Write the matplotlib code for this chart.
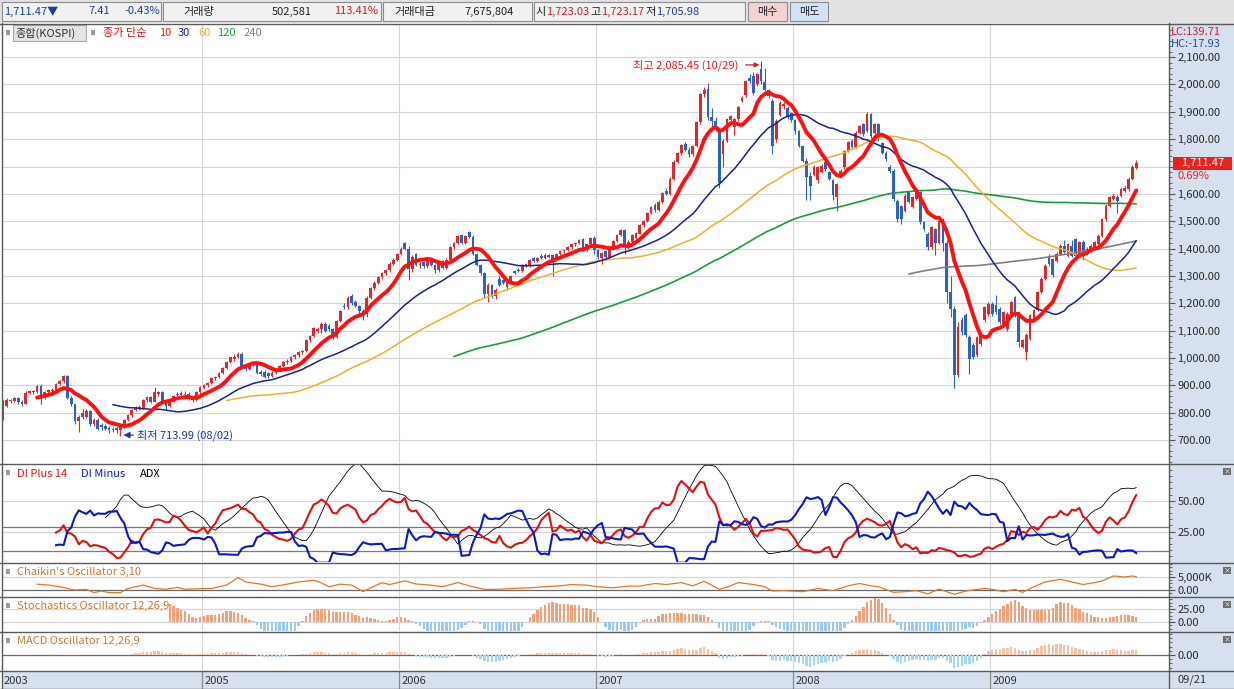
import numpy as np
import pandas as pd
import matplotlib
matplotlib.use('Agg')
import matplotlib.pyplot as plt
import matplotlib.transforms as mtrans
from matplotlib.patches import Rectangle
from matplotlib.ticker import FixedLocator, MultipleLocator

plt.rcParams['font.family'] = ['Noto Sans CJK KR', 'DejaVu Sans']
plt.rcParams['font.size'] = 8

# KOSPI weekly candles, week of 2003-12-29 .. week of 2009-09-21
opens = [
    780, 825, 845, 842, 852, 838, 832, 872, 878, 874,
    896, 855, 876, 880, 884, 905, 914, 933, 855, 830,
    770, 800, 783, 805, 760, 775, 755, 752, 745, 735,
    738, 735, 750, 772, 790, 810, 822, 814, 846, 856,
    840, 868, 874, 842, 826, 842, 868, 864, 866, 870,
    856, 846, 874, 892, 900, 908, 926, 930, 946, 965,
    985, 998, 1005, 1016, 972, 958, 975, 985, 940, 950,
    945, 934, 946, 958, 970, 985, 990, 1004, 1010, 1020,
    1025, 1065, 1080, 1098, 1106, 1124, 1118, 1105, 1075, 1135,
    1190, 1185, 1225, 1205, 1190, 1170, 1160, 1220, 1255, 1275,
    1295, 1310, 1320, 1345, 1360, 1380, 1420, 1400, 1325, 1380,
    1340, 1350, 1335, 1365, 1340, 1320, 1355, 1330, 1360, 1405,
    1420, 1450, 1420, 1460, 1442, 1380, 1340, 1310, 1235, 1265,
    1225, 1290, 1285, 1260, 1282, 1318, 1322, 1318, 1342, 1336,
    1365, 1356, 1374, 1366, 1368, 1375, 1360, 1380, 1390, 1396,
    1405, 1415, 1420, 1435, 1395, 1418, 1440, 1395, 1365, 1392,
    1368, 1398, 1428, 1450, 1468, 1405, 1425, 1440, 1455, 1485,
    1500, 1530, 1560, 1540, 1572, 1612, 1600, 1655, 1718, 1748,
    1782, 1762, 1745, 1775, 1861, 1964, 1985, 1880, 1868, 1838,
    1745, 1795, 1870, 1845, 1872, 1940, 1960, 2025, 2030, 2000,
    2055, 2010, 1978, 1940, 1800, 1890, 1920, 1915, 1895, 1870,
    1830, 1776, 1721, 1665, 1670, 1649, 1680, 1715, 1680, 1650,
    1588, 1667, 1697, 1758, 1795, 1772, 1824, 1855, 1830, 1891,
    1824, 1854, 1786, 1751, 1700, 1684, 1575, 1555, 1538, 1606,
    1551, 1582, 1606, 1496, 1453, 1405, 1470, 1420, 1500, 1419,
    1241, 1180, 938, 1140, 1156, 1077, 1047, 1010, 1050, 1138,
    1160, 1199, 1192, 1180, 1120, 1107, 1162, 1223, 1168, 1041,
    1023, 1071, 1144, 1174, 1241, 1290, 1374, 1362, 1356, 1381,
    1411, 1374, 1411, 1435, 1381, 1423, 1381, 1393, 1405, 1417,
    1447, 1508, 1557, 1581, 1587, 1593, 1611, 1617, 1654, 1696,
]
highs = [
    845, 852, 850, 858, 856, 848, 878, 882, 884, 900,
    905, 880, 886, 889, 908, 918, 937, 936, 862, 835,
    790, 812, 812, 810, 782, 780, 762, 760, 752, 748,
    750, 756, 778, 795, 815, 825, 828, 850, 862, 860,
    895, 880, 878, 846, 848, 865, 875, 878, 878, 874,
    860, 878, 898, 906, 912, 930, 935, 950, 968, 988,
    1005, 1015, 1022, 1020, 976, 980, 990, 988, 955, 955,
    950, 952, 962, 975, 990, 995, 1008, 1015, 1025, 1030,
    1070, 1085, 1112, 1112, 1130, 1132, 1125, 1110, 1140, 1175,
    1200, 1225, 1235, 1212, 1195, 1178, 1225, 1260, 1280, 1300,
    1315, 1325, 1350, 1365, 1385, 1405, 1425, 1410, 1375, 1385,
    1352, 1355, 1368, 1370, 1345, 1358, 1360, 1365, 1410, 1425,
    1450, 1455, 1450, 1464, 1448, 1385, 1345, 1315, 1275, 1270,
    1255, 1298, 1290, 1288, 1305, 1322, 1328, 1345, 1348, 1362,
    1370, 1370, 1380, 1382, 1380, 1380, 1385, 1395, 1400, 1410,
    1420, 1425, 1435, 1440, 1422, 1442, 1445, 1400, 1388, 1396,
    1402, 1432, 1455, 1472, 1470, 1430, 1452, 1462, 1488, 1504,
    1532, 1556, 1566, 1576, 1606, 1620, 1660, 1722, 1752, 1782,
    1790, 1770, 1780, 1866, 1968, 1990, 2004, 1915, 1880, 1845,
    1800, 1878, 1890, 1878, 1920, 1958, 2018, 2040, 2045, 2042,
    2085.45, 2060, 1985, 1945, 1872, 1940, 1935, 1920, 1900, 1875,
    1835, 1780, 1730, 1680, 1705, 1702, 1710, 1720, 1685, 1655,
    1640, 1690, 1762, 1792, 1800, 1828, 1852, 1860, 1901, 1896,
    1860, 1860, 1790, 1756, 1705, 1690, 1580, 1560, 1598, 1612,
    1592, 1612, 1610, 1500, 1460, 1482, 1475, 1505, 1510, 1430,
    1300, 1190, 1130, 1150, 1165, 1085, 1055, 1080, 1095, 1190,
    1205, 1205, 1229, 1185, 1172, 1168, 1210, 1228, 1172, 1070,
    1090, 1160, 1180, 1245, 1295, 1342, 1380, 1366, 1386, 1415,
    1432, 1420, 1430, 1440, 1428, 1430, 1404, 1416, 1428, 1452,
    1512, 1562, 1592, 1598, 1595, 1622, 1628, 1660, 1707, 1723.17,
]
lows = [
    772, 820, 835, 838, 830, 825, 830, 868, 870, 872,
    830, 850, 866, 872, 880, 900, 910, 850, 825, 760,
    728, 778, 780, 752, 750, 735, 738, 735, 725, 728,
    725, 713.99, 745, 768, 785, 805, 810, 812, 840, 835,
    838, 860, 838, 808, 822, 838, 860, 858, 860, 845,
    838, 842, 870, 885, 895, 904, 918, 926, 942, 960,
    980, 990, 1000, 965, 952, 955, 970, 940, 935, 925,
    928, 930, 940, 952, 966, 978, 985, 998, 1005, 1015,
    1022, 1060, 1075, 1092, 1090, 1095, 1100, 1068, 1072, 1130,
    1180, 1180, 1195, 1185, 1162, 1140, 1150, 1215, 1250, 1270,
    1290, 1305, 1315, 1340, 1355, 1375, 1395, 1285, 1315, 1335,
    1330, 1328, 1330, 1335, 1310, 1315, 1325, 1325, 1355, 1400,
    1415, 1415, 1418, 1438, 1375, 1335, 1305, 1220, 1203, 1220,
    1215, 1262, 1270, 1250, 1278, 1308, 1315, 1315, 1332, 1332,
    1352, 1350, 1362, 1362, 1364, 1300, 1355, 1375, 1385, 1390,
    1400, 1410, 1415, 1390, 1390, 1410, 1380, 1362, 1345, 1360,
    1365, 1395, 1425, 1445, 1380, 1400, 1420, 1436, 1452, 1480,
    1496, 1526, 1535, 1536, 1568, 1595, 1596, 1650, 1712, 1742,
    1755, 1735, 1740, 1770, 1855, 1955, 1870, 1830, 1830, 1620,
    1700, 1790, 1860, 1815, 1868, 1935, 1955, 2005, 1960, 1995,
    2000, 1975, 1950, 1746, 1790, 1885, 1912, 1872, 1862, 1820,
    1770, 1715, 1576, 1576, 1665, 1640, 1675, 1685, 1650, 1576,
    1537, 1660, 1692, 1752, 1765, 1768, 1818, 1812, 1825, 1805,
    1818, 1795, 1745, 1720, 1678, 1575, 1496, 1490, 1532, 1565,
    1548, 1578, 1490, 1465, 1395, 1400, 1375, 1415, 1390, 1200,
    1150, 892, 930, 1085, 1078, 940, 995, 1005, 1045, 1130,
    1155, 1155, 1160, 1125, 1115, 1100, 1158, 1150, 1040, 1035,
    992, 1065, 1140, 1170, 1236, 1285, 1338, 1296, 1350, 1376,
    1382, 1368, 1368, 1368, 1376, 1360, 1376, 1388, 1400, 1412,
    1442, 1502, 1552, 1576, 1530, 1588, 1605, 1612, 1650, 1690,
]
closes = [
    825, 845, 842, 852, 838, 832, 872, 878, 874, 896,
    855, 876, 882, 884, 905, 914, 933, 855, 830, 770,
    785, 783, 805, 760, 775, 742, 746, 740, 735, 742,
    744, 750, 772, 790, 810, 820, 814, 846, 856, 840,
    876, 874, 842, 826, 842, 860, 864, 872, 870, 850,
    846, 874, 895, 900, 908, 926, 930, 946, 965, 985,
    1002, 1005, 1016, 972, 958, 975, 985, 946, 950, 930,
    934, 946, 958, 970, 985, 990, 1004, 1010, 1020, 1025,
    1065, 1080, 1108, 1106, 1124, 1100, 1105, 1075, 1135, 1170,
    1185, 1220, 1200, 1190, 1170, 1160, 1220, 1255, 1275, 1295,
    1310, 1320, 1345, 1360, 1380, 1400, 1400, 1325, 1370, 1340,
    1345, 1335, 1365, 1340, 1320, 1355, 1330, 1360, 1405, 1420,
    1445, 1420, 1446, 1442, 1380, 1340, 1310, 1235, 1265, 1225,
    1250, 1268, 1275, 1282, 1300, 1312, 1318, 1340, 1336, 1358,
    1356, 1366, 1366, 1378, 1376, 1360, 1380, 1390, 1396, 1405,
    1415, 1420, 1432, 1395, 1418, 1438, 1395, 1370, 1382, 1368,
    1398, 1428, 1450, 1468, 1405, 1425, 1448, 1458, 1485, 1500,
    1530, 1552, 1540, 1572, 1602, 1600, 1655, 1718, 1748, 1778,
    1762, 1745, 1775, 1861, 1964, 1978, 1880, 1868, 1838, 1638,
    1795, 1873, 1885, 1872, 1916, 1952, 2013, 2013, 1968, 2037,
    2013, 1980, 1958, 1776, 1867, 1934, 1930, 1880, 1870, 1830,
    1776, 1721, 1661, 1630, 1697, 1697, 1703, 1691, 1655, 1594,
    1636, 1685, 1758, 1788, 1772, 1824, 1849, 1818, 1891, 1811,
    1854, 1800, 1751, 1726, 1684, 1581, 1508, 1508, 1593, 1569,
    1588, 1606, 1496, 1472, 1405, 1477, 1420, 1500, 1419, 1241,
    1180, 938, 1113, 1095, 1083, 998, 1005, 1075, 1089, 1186,
    1199, 1160, 1168, 1132, 1168, 1162, 1205, 1156, 1059, 1065,
    1083, 1156, 1174, 1241, 1290, 1338, 1344, 1302, 1381, 1411,
    1387, 1417, 1374, 1374, 1423, 1374, 1399, 1411, 1423, 1447,
    1508, 1557, 1587, 1593, 1575, 1617, 1623, 1654, 1699.74, 1711.47,
]

# Chaikin's oscillator (week index, value in thousands)
chaikin_weeks = [9, 12, 15, 17, 19, 22, 24, 26, 28, 31, 33, 37, 40, 43, 46, 48,
                 52, 55, 59, 62, 64, 68, 71, 75, 78, 82, 84, 86, 89, 92, 95, 98,
                 100, 102, 106, 109, 113, 116, 120, 123, 127, 130, 135, 139, 143,
                 147, 150, 154, 157, 161, 165, 168, 172, 175, 179, 182, 185, 187,
                 189, 192, 194, 198, 201, 203, 206, 211, 215, 219, 223, 226, 229,
                 231, 235, 238, 241, 244, 247, 251, 254, 259, 261, 264, 267, 269,
                 272, 275, 279, 282, 285, 288, 290, 293, 296, 298, 299]
chaikin_vals = [2250, 1900, 1250, 600, 0, 250, -1000, -400, -1000, -1000, 600, 1900,
                600, 250, 1000, 250, 500, 600, 1900, 4750, 3100, 2250, 1250, 2250,
                3100, 3750, 2750, 1250, 2250, 1900, -600, 1500, 2800, 2100, 3500,
                2300, 1850, 1250, 2850, 1600, 250, 250, 600, 850, 1250, 1600, 2100,
                1850, 1250, 850, 1500, 1500, 2500, 2100, 2850, 1600, 3350, 1850,
                250, 1600, 2850, 2100, 1250, -400, -250, -650, 600, -250, 1600,
                2500, 1600, 1250, -900, -650, -250, -1500, 350, -1650, -400, 600,
                250, -650, 250, -900, 1250, 3100, 4100, 3100, 2100, 2850, 3500,
                5400, 5000, 5400, 5100]

ma_periods = [10, 30, 60, 120, 240]
ma_colors = ['#FF1010', '#14248A', '#E9B22C', '#1F9A3E', '#808080']
ma_widths = [2.8, 1.1, 1.1, 1.2, 1.2]

price_ticks = list(range(700, 2101, 100))

W, H = 1234, 689
RED, BLUE = '#DA2A2A', '#2C62C6'
AXBG = '#D6E0EE'
GRID = '#D6D6D6'
DARK = '#5A5A5A'
OSC_TXT = '#C47A3A'

o, h, l, c = map(np.array, (opens, highs, lows, closes))
n = len(c)
idx = np.arange(n)
weeks = pd.date_range('2003-12-29', periods=n, freq='W-MON')
fri_year = (weeks + pd.Timedelta(days=4)).year
year_pos = [0] + [i for i in range(1, n) if fri_year[i] != fri_year[i - 1]]
year_lbl = [str(weeks[0].year)] + [str(fri_year[i]) for i in year_pos[1:]]

# ---- indicators ----
df = pd.DataFrame({'o': o, 'h': h, 'l': l, 'c': c})
pc = df.c.shift()
tr = pd.concat([df.h - df.l, (df.h - pc).abs(), (df.l - pc).abs()], axis=1).max(axis=1)
tr.iloc[0] = np.nan
upm = df.h.diff()
dnm = -df.l.diff()
pdm = upm.where((upm > dnm) & (upm > 0), 0.0)
mdm = dnm.where((dnm > upm) & (dnm > 0), 0.0)
pdm.iloc[0] = np.nan
mdm.iloc[0] = np.nan
tr14 = tr.rolling(14).sum()
di_p = 100 * pdm.rolling(14).sum() / tr14
di_m = 100 * mdm.rolling(14).sum() / tr14
dx = 100 * (di_p - di_m).abs() / (di_p + di_m)
adx = dx.rolling(14).mean()

ema12 = df.c.ewm(span=12, adjust=False).mean()
ema26 = df.c.ewm(span=26, adjust=False).mean()
macd = ema12 - ema26
macd_osc = macd - macd.ewm(span=9, adjust=False).mean()
macd_osc.iloc[:33] = np.nan

# stochastics oscillator 12,26,9: %K(12) minus its 26-week mean, smoothed over 9
ll = df.l.rolling(12).min()
hh = df.h.rolling(12).max()
fast_k = 100 * (df.c - ll) / (hh - ll)
stoch_osc = (fast_k - fast_k.rolling(26).mean()).rolling(9).mean()

# ---- figure ----
fig = plt.figure(figsize=(W / 100, H / 100), dpi=100)
fig.patch.set_facecolor('white')


def box(x0, y0, x1, y1):
    return [x0 / W, 1 - y1 / H, (x1 - x0) / W, (y1 - y0) / H]


XL = ((2 - 3) / 3.79, (1169 - 3) / 3.79)

bg = fig.add_axes([0, 0, 1, 1], zorder=0)
bg.set_xlim(0, W)
bg.set_ylim(H, 0)
bg.set_axis_off()
bg.add_patch(Rectangle((0, 0), W, 23, fc='#E2E2E2', ec='none'))
bg.add_patch(Rectangle((1169, 23), W - 1169, H - 23, fc=AXBG, ec='none'))


def panel(y0, y1, ylim):
    ax = fig.add_axes(box(2, y0, 1169, y1), zorder=1)
    ax.set_facecolor('white')
    ax.set_xlim(*XL)
    ax.set_ylim(*ylim)
    ax.set_xticks([])
    for sp in ax.spines.values():
        sp.set_visible(False)
    ax.yaxis.tick_right()
    ax.tick_params(axis='y', which='both', direction='out', colors='#555555',
                   labelcolor='#2A2A2A', labelsize=8, pad=2)
    ax.tick_params(axis='y', which='major', length=4)
    ax.tick_params(axis='y', which='minor', length=2)
    for p in year_pos[1:]:
        ax.axvline(p - 0.45, color=GRID, lw=0.8, zorder=0.5)
    return ax


# price panel
ax = panel(24, 463, (616, 2221))
for v in price_ticks:
    ax.axhline(v, color=GRID, lw=0.8, zorder=0.5)
ax.yaxis.set_major_locator(FixedLocator(price_ticks))
# the label under the last-price tag stays hidden, as on the terminal
ax.set_yticklabels(['' if abs(v - c[-1]) < 30 else f'{v:,.2f}' for v in price_ticks])
ax.yaxis.set_minor_locator(MultipleLocator(20))

col = np.where(c >= o, RED, BLUE)
ax.vlines(idx, l, h, colors=col, lw=0.8, zorder=2)
ax.bar(idx, np.maximum(np.abs(c - o), 3), bottom=np.minimum(o, c), width=0.72,
       color=col, zorder=2.1)
cs = pd.Series(c)
for per, colr, lw in list(zip(ma_periods, ma_colors, ma_widths))[::-1]:
    ax.plot(idx, cs.rolling(per).mean(), color=colr, lw=lw, zorder=3,
            solid_capstyle='round')

imax = int(np.argmax(h))
imin = int(np.argmin(l))
ax.annotate(f'최고 {h[imax]:,.2f} ({weeks[imax]:%m/%d})', xy=(imax - 0.4, h[imax] - 14),
            xytext=(-15, 0), textcoords='offset points', ha='right', va='center',
            color='#D81E1E', fontsize=8, zorder=4,
            arrowprops=dict(arrowstyle='-|>', color='#D81E1E', lw=0.9,
                            shrinkA=3, shrinkB=0, mutation_scale=7))
ax.annotate(f'최저 {l[imin]:,.2f} ({weeks[imin]:%m/%d})', xy=(imin + 0.8, l[imin] + 4),
            xytext=(10, 0), textcoords='offset points', ha='left', va='center',
            color='#1530B8', fontsize=8, zorder=4,
            arrowprops=dict(arrowstyle='-|>', color='#1530B8', lw=0.9,
                            shrinkA=1, shrinkB=0, mutation_scale=9))

# last price tag on the right scale
bt = mtrans.blended_transform_factory(ax.transAxes, ax.transData)
ax.add_patch(Rectangle((1.0034, c[-1] - 23.5), 0.0506, 47, transform=bt,
                       fc='#E8231E', ec='none', clip_on=False, zorder=6))
ax.text(1.0287, c[-1], f'{c[-1]:,.2f}', transform=bt, ha='center', va='center',
        color='white', fontsize=8, zorder=7, clip_on=False)
ax.text(1.0069, c[-1] - 45, f'{(c[-1] / c[-2] - 1) * 100:.2f}%', transform=bt,
        ha='left', va='center', color='#E8231E', fontsize=8, zorder=7, clip_on=False)

# DMI panel
ax = panel(464, 562, (0.56, 79.6))
for v, cl in [(50, GRID), (25, GRID), (29, '#7A7A7A'), (9.7, '#7A7A7A')]:
    ax.axhline(v, color=cl, lw=0.9, zorder=0.6)
ax.yaxis.set_major_locator(FixedLocator([25, 50]))
ax.set_yticklabels(['25.00', '50.00'])
ax.yaxis.set_minor_locator(MultipleLocator(5))
ax.plot(idx, adx, color='black', lw=0.6, zorder=2)
ax.plot(idx, di_p, color='#E01010', lw=1.5, zorder=3)
ax.plot(idx, di_m, color='#0A18C8', lw=1.5, zorder=3)

# Chaikin panel
ax = panel(563, 596, (-2308, 10385))
ax.axhline(5000, color=GRID, lw=0.9, zorder=0.6)
ax.axhline(0, color='#6A6A6A', lw=0.9, zorder=0.6)
ax.yaxis.set_major_locator(FixedLocator([0, 5000]))
ax.set_yticklabels(['0.00', '5,000K'])
ax.yaxis.set_minor_locator(MultipleLocator(1250))
ax.plot(chaikin_weeks, chaikin_vals, color='#DA7A30', lw=0.9, zorder=2)

# Stochastics oscillator panel
ax = panel(597, 631, (-17.3, 48.1))
ax.axhline(25, color=GRID, lw=0.9, zorder=0.6)
ax.axhline(0, color=GRID, lw=0.9, zorder=0.6)
ax.yaxis.set_major_locator(FixedLocator([0, 25]))
ax.set_yticklabels(['0.00', '25.00'])
ax.yaxis.set_minor_locator(MultipleLocator(6.25))
sv = stoch_osc.values
ax.bar(idx, sv, width=0.62, color=np.where(sv >= 0, '#F4A079', '#9CC8F2'), zorder=2)

# MACD oscillator panel
mv = macd_osc.values
mmax = np.nanmax(np.abs(mv))
ax = panel(632, 670, (-15 / 12.7 * mmax, 23 / 12.7 * mmax))
ax.axhline(0, color='#6A6A6A', lw=0.9, zorder=0.6)
ax.yaxis.set_major_locator(FixedLocator([0]))
ax.set_yticklabels(['0.00'])
ax.yaxis.set_minor_locator(MultipleLocator(mmax / 3))
ax.bar(idx, mv, width=0.62, color=np.where(mv >= 0, '#F5C2A6', '#A6D4F2'), zorder=2)

# date strip
axx = fig.add_axes(box(2, 671, 1169, 689), zorder=1)
axx.set_facecolor(AXBG)
axx.set_xlim(*XL)
axx.set_ylim(0, 1)
axx.set_xticks([])
axx.set_yticks([])
for sp in axx.spines.values():
    sp.set_visible(False)
for p, lb in zip(year_pos, year_lbl):
    if p > 0:
        axx.axvline(p - 0.45, color='#8A8A8A', lw=0.9)
    axx.text(p + 0.15, 0.45, lb, ha='left', va='center', color='#333333', fontsize=8)

# ---- overlay: frame, header, titles ----
top = fig.add_axes([0, 0, 1, 1], zorder=3)
top.set_xlim(0, W)
top.set_ylim(H, 0)
top.set_axis_off()

for yy in [23.5, 463.5, 562.5, 596.5, 631.5, 670.5]:
    top.plot([0, W], [yy, yy], color=DARK, lw=1)
top.plot([1169, 1169], [23, H], color=DARK, lw=1)
top.plot([1.5, 1.5], [23, H], color=DARK, lw=1)
top.plot([0, W], [688.5, 688.5], color=DARK, lw=1)

# header bar
for x0, x1 in [(2, 161), (163, 381), (383, 532), (534, 745)]:
    top.add_patch(Rectangle((x0, 2), x1 - x0, 19, fc='#F1F1F1', ec='#8C8C8C', lw=0.8))
top.add_patch(Rectangle((748, 2), 39, 19, fc='#F4D2D2', ec='#8C8C8C', lw=0.8))
top.add_patch(Rectangle((790, 2), 38, 19, fc='#D2E2F6', ec='#8C8C8C', lw=0.8))
hdr = [
    (4, 'left', '1,711.47▼', '#1F3F9F'), (110, 'right', '7.41', '#1F3F9F'),
    (160, 'right', '-0.43%', '#1F3F9F'), (183, 'left', '거래량', '#222222'),
    (312, 'right', '502,581', '#222222'), (378, 'right', '113.41%', '#D02020'),
    (394, 'left', '거래대금', '#222222'), (514, 'right', '7,675,804', '#222222'),
    (535, 'left', '시', '#222222'), (546, 'left', '1,723.03', '#D02020'),
    (590, 'left', '고', '#222222'), (601, 'left', '1,723.17', '#D02020'),
    (645, 'left', '저', '#222222'), (656, 'left', '1,705.98', '#1F3F9F'),
    (767.5, 'center', '매수', '#222222'), (809, 'center', '매도', '#222222'),
]
for x, ha, t, cl in hdr:
    top.text(x, 11.5, t, ha=ha, va='center', color=cl, fontsize=8)

# price legend
top.add_patch(Rectangle((6, 30), 4, 5, fc='#9A9A9A', ec='none'))
top.add_patch(Rectangle((13, 25), 73, 16, fc='#E4E4E4', ec='#A8A8A8', lw=0.8))
top.text(15, 33, '종합(KOSPI)', ha='left', va='center', color='#333333', fontsize=8)
top.add_patch(Rectangle((91, 30), 4, 5, fc='#9A9A9A', ec='none'))
top.text(103, 33, '종가 단순', ha='left', va='center', color='#E01010', fontsize=8)
for x, per, colr in zip([159, 178, 198, 217, 244], ma_periods, ma_colors):
    top.text(x, 33, str(per), ha='left', va='center', color=colr, fontsize=8)
top.text(1171, 32, 'LC:139.71', ha='left', va='center', color='#D02020', fontsize=8)
top.text(1171, 44, 'HC:-17.93', ha='left', va='center', color='#2050B0', fontsize=8)

# indicator titles
for y in [473, 572, 606, 641]:
    top.add_patch(Rectangle((6, y - 3), 4, 5, fc='#9A9A9A', ec='none'))
top.text(17, 474, 'DI Plus 14', ha='left', va='center', color='#E01010', fontsize=8)
top.text(81, 474, 'DI Minus', ha='left', va='center', color='#0A18C8', fontsize=8)
top.text(140, 474, 'ADX', ha='left', va='center', color='black', fontsize=8)
top.text(17, 572, "Chaikin's Oscillator 3,10", ha='left', va='center', color=OSC_TXT, fontsize=8)
top.text(17, 606, 'Stochastics Oscillator 12,26,9', ha='left', va='center', color=OSC_TXT, fontsize=8)
top.text(17, 641, 'MACD Oscillator 12,26,9', ha='left', va='center', color=OSC_TXT, fontsize=8)

# close icons on each indicator scale
for y in [468, 567, 601, 636]:
    top.add_patch(Rectangle((1223, y), 8, 7, fc='#6E6E6E', ec='none'))
    top.text(1227, y + 3.3, '×', ha='center', va='center', color='white', fontsize=5)

top.text(1178, 680, f'{weeks[-1]:%m/%d}', ha='left', va='center', color='#333333', fontsize=8)

fig.savefig('out.png', dpi=100)
